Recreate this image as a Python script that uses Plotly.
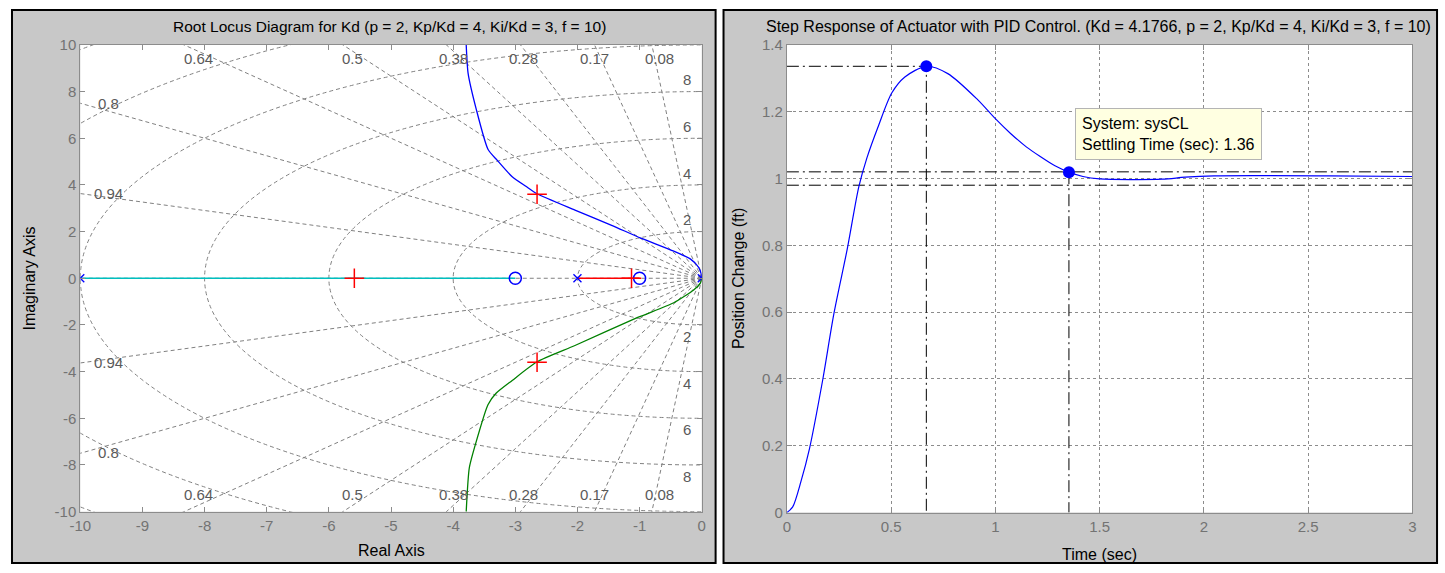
import plotly.graph_objects as go

# ---------------- data ----------------
upper_re = [0, -0.01, -0.05, -0.18, -0.45, -0.98, -1.45, -2.04, -2.65, -2.83, -3.05, -3.29, -3.44, -3.63, -3.76, -3.79]
upper_im = [0, 0.20, 0.47, 0.82, 1.16, 1.72, 2.27, 2.92, 3.62, 3.94, 4.35, 5.05, 5.53, 7.26, 8.79, 10.0]
lower_re = [0, -0.02, -0.13, -0.45, -1.03, -2.04, -2.65, -3.05, -3.31, -3.44, -3.63, -3.74, -3.79]
lower_im = [0, -0.20, -0.50, -1.05, -1.68, -2.88, -3.58, -4.38, -4.93, -5.42, -7.01, -8.12, -10.0]
cyan_re = [-10, -3]
red_re = [-2, -1]
ol_poles = [-10, -2, 0]
ol_zeros = [-3, -1]
cl_re = [-5.59, -2.65, -2.65, -1.13]
cl_im = [0, 3.60, -3.60, 0]

zeta_vals = [0.08, 0.17, 0.28, 0.38, 0.5, 0.64, 0.8, 0.94]
wn_vals = [2, 4, 6, 8, 10, 12, 14]
zeta_top = ["0.64", "0.5", "0.38", "0.28", "0.17", "0.08"]
zeta_top_x = [-8.09, -5.62, -4.00, -2.87, -1.72, -0.68]
zeta_side = ["0.8", "0.94"]
zeta_side_y = [7.48, 3.62]
wn_labels = ["8", "6", "4", "2"]
wn_label_y = [8.5, 6.5, 4.5, 2.5]

t_vals = [0, 0.028, 0.068, 0.108, 0.171, 0.226, 0.29, 0.345, 0.384, 0.44, 0.503, 0.566, 0.669,
          0.772, 0.915, 0.994, 1.073, 1.15, 1.215, 1.286, 1.353, 1.42, 1.5, 1.8, 1.91, 2.05, 2.6, 3.0]
y_vals = [0, 0.017, 0.094, 0.19, 0.394, 0.597, 0.79, 0.975, 1.062, 1.159, 1.256, 1.304, 1.336,
          1.314, 1.236, 1.183, 1.135, 1.094, 1.066, 1.038, 1.019, 1.006, 0.999, 0.998, 1.004, 1.008, 1.008, 1.006]
peak_t, peak_y = 0.669, 1.336
settle_t, settle_y = 1.353, 1.019
band_hi, band_lo = 1.02, 0.98

W, H = 1445, 573


def fx(s):
    return s / W


def fy(s):
    return (H - s) / H


FONT = "Liberation Sans, Arial, sans-serif"
GREY = "#737373"
GRIDC = "#808080"
LBL = "#5a5a5a"

fig = go.Figure()

# ---- panels (grey) + white plot areas ----
for (a, b) in [(1, 712), (720, 1441)]:
    fig.add_shape(type="rect", xref="paper", yref="paper", x0=fx(a), x1=fx(b),
                  y0=fy(571), y1=fy(1), fillcolor="#c8c8c8",
                  line=dict(color="black", width=2), layer="below")
for (a, b, top, bot) in [(70, 698, 37, 518), (784, 1416, 37, 519)]:
    fig.add_shape(type="rect", xref="paper", yref="paper", x0=fx(a), x1=fx(b),
                  y0=fy(bot), y1=fy(top), fillcolor="white",
                  line=dict(width=0), layer="below")

# ---- s-grid (left) ----
for z in zeta_vals:
    R = 16
    for sgn in (1, -1):
        fig.add_shape(type="line", xref="x", yref="y", x0=0, y0=0,
                      x1=-R * z, y1=sgn * R * (1 - z * z) ** 0.5,
                      line=dict(color=GRIDC, width=1, dash="4px,3px"), layer="below")
fig.add_shape(type="line", xref="x", yref="y", x0=0, y0=0, x1=-16, y1=0,
              line=dict(color=GRIDC, width=1, dash="4px,3px"), layer="below")
for r in wn_vals:
    fig.add_shape(type="circle", xref="x", yref="y", x0=-r, y0=-r, x1=r, y1=r,
                  line=dict(color=GRIDC, width=1, dash="4px,3px"), layer="below")

# ---- root locus ----
fig.add_trace(go.Scatter(x=cyan_re, y=[0, 0], mode="lines", line=dict(color="#00bfbf", width=1.5),
                         xaxis="x", yaxis="y", hoverinfo="skip"))
fig.add_trace(go.Scatter(x=red_re, y=[0, 0], mode="lines", line=dict(color="#ff0000", width=1.5),
                         xaxis="x", yaxis="y", hoverinfo="skip"))
fig.add_trace(go.Scatter(x=upper_re, y=upper_im, mode="lines",
                         line=dict(color="#0000ff", width=1.3, shape="spline", smoothing=0.6),
                         xaxis="x", yaxis="y"))
fig.add_trace(go.Scatter(x=lower_re, y=lower_im, mode="lines",
                         line=dict(color="#008000", width=1.3, shape="spline", smoothing=0.6),
                         xaxis="x", yaxis="y"))
fig.add_trace(go.Scatter(x=ol_poles, y=[0] * len(ol_poles), mode="markers",
                         marker=dict(symbol="x-thin", size=8, line=dict(color="#0000ff", width=1.3)),
                         xaxis="x", yaxis="y"))
fig.add_trace(go.Scatter(x=ol_zeros, y=[0] * len(ol_zeros), mode="markers",
                         marker=dict(symbol="circle-open", size=12, color="#0000ff", line=dict(width=1.5)),
                         xaxis="x", yaxis="y"))
fig.add_trace(go.Scatter(x=cl_re, y=cl_im, mode="markers",
                         marker=dict(symbol="cross-thin", size=14, line=dict(color="#ff0000", width=1.5)),
                         xaxis="x", yaxis="y"))

# ---- step response ----
DD = "12px,4px,2px,4px"
for xs, ys in [([0, 3], [band_hi, band_hi]), ([0, 3], [band_lo, band_lo]),
               ([0, peak_t, peak_t], [peak_y, peak_y, 0]), ([settle_t, settle_t], [settle_y, 0])]:
    fig.add_trace(go.Scatter(x=xs, y=ys, mode="lines", line=dict(color="black", width=1, dash=DD),
                             xaxis="x2", yaxis="y2", hoverinfo="skip"))
fig.add_trace(go.Scatter(x=t_vals, y=y_vals, mode="lines",
                         line=dict(color="#0000ff", width=1.2, shape="spline", smoothing=0.8),
                         xaxis="x2", yaxis="y2"))
fig.add_trace(go.Scatter(x=[peak_t, settle_t], y=[peak_y, settle_y], mode="markers",
                         marker=dict(color="#0000ff", size=12), xaxis="x2", yaxis="y2"))

axis_common = dict(showline=True, linecolor="#8c8c8c", linewidth=1, mirror="ticks",
                   ticks="inside", ticklen=5, tickcolor="#8c8c8c", zeroline=False,
                   tickfont=dict(family=FONT, size=15, color=GREY))


def ann(x, y, text, xref="paper", yref="paper", color="black", size=16, **kw):
    d = dict(x=x, y=y, xref=xref, yref=yref, text=text, showarrow=False,
             xanchor=kw.pop("xanchor", "center"), yanchor=kw.pop("yanchor", "middle"),
             font=dict(family=FONT, size=size, color=color))
    d.update(kw)
    return d


annotations = []
for txt, xv in zip(zeta_top, zeta_top_x):
    for yv in (9.4, -9.25):
        annotations.append(ann(xv, yv, txt, "x", "y", LBL, 15))
for txt, yv in zip(zeta_side, zeta_side_y):
    for s in (1, -1):
        annotations.append(ann(-9.55, s * yv, txt, "x", "y", LBL, 15))
for txt, yv in zip(wn_labels, wn_label_y):
    for s in (1, -1):
        annotations.append(ann(-0.24, s * yv, txt, "x", "y", LBL, 15))

annotations += [
    ann(fx(382), fy(18), "Root Locus Diagram for Kd (p = 2, Kp/Kd = 4, Ki/Kd = 3, f = 10)", size=15.5),
    ann(fx(1099), fy(18),
        "Step Response of Actuator with PID Control. (Kd = 4.1766, p = 2, Kp/Kd = 4, Ki/Kd = 3, f = 10)",
        size=16),
    ann(fx(384), fy(558), "Real Axis"),
    ann(fx(1100), fy(562), "Time (sec)"),
    ann(fx(19), fy(278), "Imaginary Axis", textangle=-90),
    ann(fx(735), fy(278), "Position Change (ft)", textangle=-90),
    ann(1.38, 1.21, "System: sysCL<br>Settling Time (sec): 1.36", "x2", "y2",
        xanchor="left", yanchor="top", align="left",
        bgcolor="#ffffe1", bordercolor="#b4b4b4", borderwidth=1, borderpad=6),
]

fig.update_layout(
    width=W, height=H, autosize=False,
    margin=dict(l=0, r=0, t=0, b=0, pad=0),
    paper_bgcolor="white", plot_bgcolor="rgba(0,0,0,0)",
    showlegend=False,
    xaxis=dict(domain=[fx(70), fx(698)], range=[-10, 0], tickmode="array",
               tickvals=list(range(-10, 1)), ticktext=[str(v) for v in range(-10, 1)],
               showgrid=False, anchor="y", **axis_common),
    yaxis=dict(domain=[fy(518), fy(37)], range=[-10, 10], tickmode="array",
               tickvals=list(range(-10, 11, 2)), ticktext=[str(v) for v in range(-10, 11, 2)],
               showgrid=False, anchor="x", **axis_common),
    xaxis2=dict(domain=[fx(784), fx(1416)], range=[0, 3], tickmode="array",
                tickvals=[0, 0.5, 1, 1.5, 2, 2.5, 3], ticktext=["0", "0.5", "1", "1.5", "2", "2.5", "3"],
                showgrid=True, gridcolor="#8c8c8c", griddash="3px,3px", gridwidth=1,
                anchor="y2", **axis_common),
    yaxis2=dict(domain=[fy(519), fy(37)], range=[0, 1.4], tickmode="array",
                tickvals=[0, 0.2, 0.4, 0.6, 0.8, 1.0, 1.2, 1.4],
                ticktext=["0", "0.2", "0.4", "0.6", "0.8", "1", "1.2", "1.4"],
                showgrid=True, gridcolor="#8c8c8c", griddash="3px,3px", gridwidth=1,
                anchor="x2", **axis_common),
    annotations=annotations,
)

fig.write_html("out.html", config={"displayModeBar": False},
               post_script="document.body.style.margin='0px';document.body.style.overflow='hidden';")
